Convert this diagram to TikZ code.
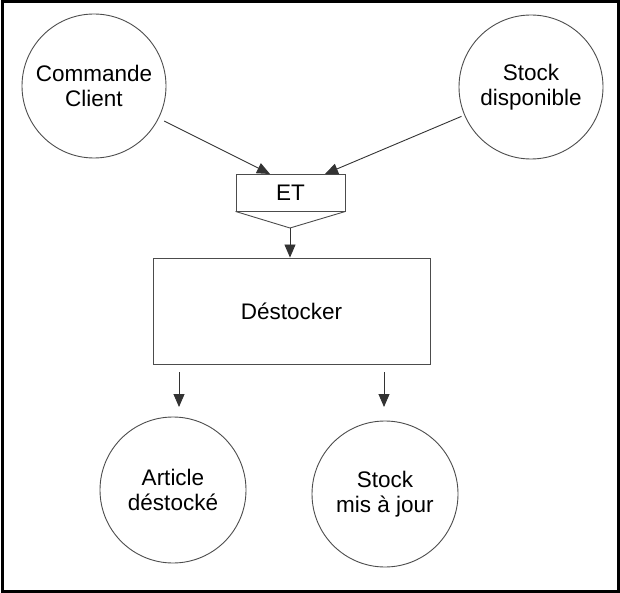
\documentclass[tikz,border=0pt]{standalone}
\usepackage{fontspec}
\setmainfont{Liberation Sans}
\usetikzlibrary{arrows.meta,calc}
\begin{document}
\begin{tikzpicture}[x=1pt,y=-1pt,
  flow/.style={circle, draw=black!70, line width=0.9pt, minimum size=144pt, inner sep=0pt, align=center, font=\fontsize{22.5}{25.5}\selectfont},
  box/.style={draw=black!70, line width=0.9pt, inner sep=0pt, font=\fontsize{22.5}{25.5}\selectfont},
  arr/.style={draw=black!80, line width=0.9pt, -{Triangle[length=13pt,width=11pt]}}]
\useasboundingbox (0,0) rectangle (620,593);
\draw[line width=3pt] (2,2) rectangle (618,591);
\node[flow] (cc) at (94,86) {Commande\\Client};
\node[flow] (sd) at (531,87) {Stock\\disponible};
\node[box, minimum width=109pt, minimum height=37pt] (et) at (290.5,192.5) {ET};
\coordinate (tip) at (290,228);
\draw[draw=black!70, line width=0.9pt] (et.south west) -- (tip) -- (et.south east);
\node[box, minimum width=277pt, minimum height=106pt] (ds) at (291.5,311) {Déstocker};
\node[flow, minimum size=146pt] (ad) at (173,490) {Article\\déstocké};
\node[flow, minimum size=146pt] (sm) at (385,494) {Stock\\mis à jour};
\coordinate (e1) at (270,174);
\coordinate (e2) at (325,174);
\draw[arr, shorten <=6pt] (cc) -- (e1);
\draw[arr, shorten <=3pt] (sd) -- (e2);
\draw[arr] (tip) -- (tip |- ds.north);
\coordinate (a1) at (179,372);
\coordinate (a2) at (179,407);
\coordinate (b1) at (384,372);
\coordinate (b2) at (384,407);
\draw[arr] (a1) -- (a2);
\draw[arr] (b1) -- (b2);
\end{tikzpicture}
\end{document}
